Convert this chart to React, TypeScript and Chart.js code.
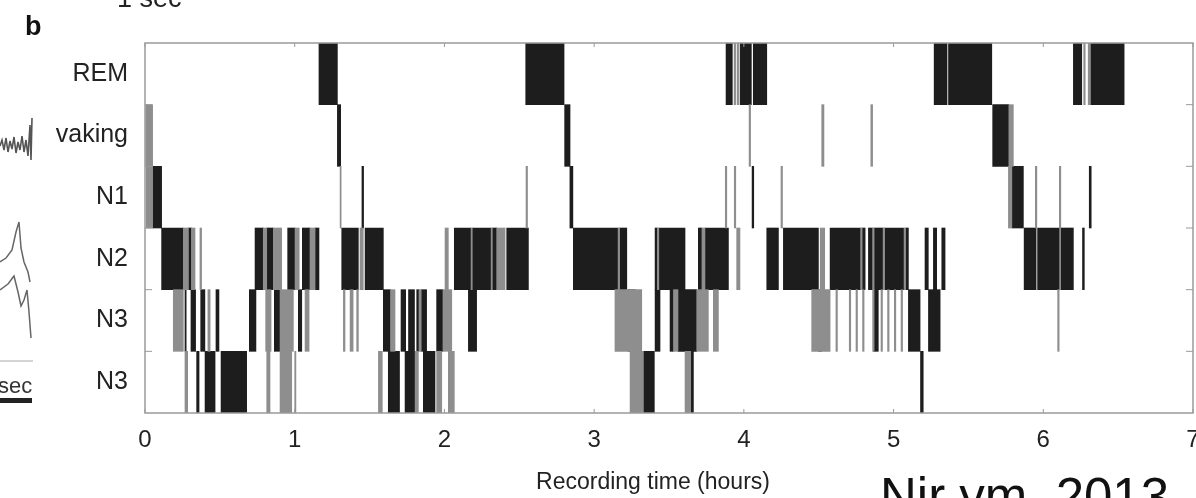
import React, { useEffect, useRef } from 'react';
import { Chart, registerables } from 'chart.js';

Chart.register(...registerables);

// ---- Data (hours) ----
const stageKeys = ['REM', 'W', 'N1', 'N2', 'N3', 'N4'];
const stageTickLabels = ['REM', 'vaking', 'N1', 'N2', 'N3', 'N3'];
const xTickValues = [0, 1, 2, 3, 4, 5, 6, 7];
const xAxisTitle = 'Recording time (hours)';

const remDark = [[1.162, 1.285], [2.543, 2.799], [3.881, 3.923], [3.975, 4.05], [4.063, 4.153], [5.271, 5.357], [5.367, 5.656], [6.201, 6.257], [6.317, 6.54]];
const remGrey = [[3.935, 3.945], [3.955, 3.965], [6.27, 6.28], [6.3, 6.31]];

const wakeDark = [[1.285, 1.307], [2.803, 2.839], [5.662, 5.77]];
const wakeGrey = [[0.005, 0.051], [4.035, 4.045], [4.52, 4.535], [4.848, 4.86], [5.77, 5.8]];

const n1Dark = [[0.051, 0.111], [1.449, 1.46], [2.838, 2.858], [4.055, 4.066], [5.79, 5.867], [6.307, 6.32]];
const n1Grey = [[0.008, 0.051], [1.303, 1.31], [2.545, 2.555], [3.876, 3.886], [3.936, 3.946], [4.248, 4.258], [5.767, 5.79], [5.947, 5.957], [6.107, 6.117]];

const n2Dark = [[0.111, 0.256], [0.29, 0.31], [0.735, 0.79], [0.813, 0.857], [0.953, 1.002], [1.051, 1.102], [1.136, 1.162], [1.314, 1.425], [1.47, 1.592], [2.066, 2.178], [2.186, 2.312], [2.32, 2.349], [2.416, 2.561], [2.861, 3.16], [3.17, 3.218], [3.407, 3.422], [3.432, 3.607], [3.696, 3.72], [3.74, 3.897], [4.153, 4.231], [4.264, 4.498], [4.576, 4.78], [4.79, 4.81], [4.832, 4.86], [4.87, 4.93], [4.94, 5.07], [5.08, 5.099], [5.21, 5.232], [5.266, 5.288], [5.322, 5.344], [5.872, 5.952], [5.962, 6.107], [6.117, 6.201], [6.262, 6.274]];
const n2Grey = [[0.256, 0.29], [0.31, 0.334], [0.367, 0.378], [0.79, 0.813], [0.857, 0.913], [1.002, 1.03], [1.102, 1.136], [1.436, 1.458], [2.004, 2.026], [2.178, 2.186], [2.312, 2.32], [2.349, 2.405], [3.16, 3.17], [3.422, 3.432], [3.72, 3.74], [3.952, 3.974], [4.51, 4.54], [4.78, 4.79], [4.86, 4.87], [4.93, 4.94], [5.07, 5.08]];

const n3Dark = [[0.267, 0.275], [0.307, 0.338], [0.372, 0.4], [0.474, 0.494], [0.697, 0.741], [0.864, 0.902], [1.024, 1.047], [1.592, 1.64], [1.71, 1.741], [1.76, 1.8], [1.815, 1.83], [1.845, 1.881], [1.948, 1.99], [2.16, 2.215], [3.228, 3.273], [3.407, 3.44], [3.507, 3.53], [3.56, 3.685], [4.5, 4.52], [4.865, 4.898], [5.099, 5.177], [5.233, 5.311]];
const n3Grey = [[0.189, 0.256], [0.42, 0.435], [0.806, 0.842], [0.902, 0.991], [1.069, 1.096], [1.325, 1.336], [1.37, 1.39], [1.414, 1.425], [1.64, 1.67], [1.83, 1.845], [1.99, 2.049], [3.139, 3.318], [3.53, 3.56], [3.685, 3.763], [3.796, 3.83], [4.453, 4.576], [4.615, 4.625], [4.704, 4.714], [4.749, 4.759], [4.793, 4.803], [4.86, 4.87], [4.916, 4.926], [4.96, 4.97], [5.005, 5.015], [5.05, 5.06], [6.096, 6.106]];

const n4Dark = [[0.345, 0.361], [0.401, 0.468], [0.508, 0.679], [0.935, 0.965], [1.625, 1.7], [1.737, 1.815], [1.859, 1.937], [3.329, 3.402], [3.645, 3.663], [5.18, 5.198]];
const n4Grey = [[0.267, 0.285], [0.813, 0.835], [0.902, 0.98], [1.0, 1.008], [1.559, 1.585], [1.804, 1.826], [1.948, 1.982], [2.026, 2.066], [3.24, 3.329], [3.607, 3.645]];

const darkSegments = [remDark, wakeDark, n1Dark, n2Dark, n3Dark, n4Dark];
const greySegments = [remGrey, wakeGrey, n1Grey, n2Grey, n3Grey, n4Grey];

const FONT = '"Liberation Sans", Arial, Helvetica, sans-serif';

function toPoints(groups: number[][][]) {
  const out: { x: number[]; y: string }[] = [];
  groups.forEach((segs, i) => {
    segs.forEach((s) => out.push({ x: s, y: stageKeys[i] }));
  });
  return out;
}

const framePlugin = {
  id: 'frame',
  afterDatasetsDraw(chart: any) {
    const { ctx, chartArea: a, scales } = chart;
    ctx.save();
    ctx.strokeStyle = '#9a9a9a';
    ctx.lineWidth = 1.5;
    ctx.strokeRect(a.left, a.top, a.right - a.left, a.bottom - a.top);
    ctx.lineWidth = 1;
    const xs = scales.x;
    xTickValues.forEach((v) => {
      const px = xs.getPixelForValue(v);
      ctx.beginPath();
      ctx.moveTo(px, a.top);
      ctx.lineTo(px, a.top + 4);
      ctx.moveTo(px, a.bottom);
      ctx.lineTo(px, a.bottom - 4);
      ctx.stroke();
    });
    const band = (a.bottom - a.top) / stageKeys.length;
    for (let i = 1; i < stageKeys.length; i++) {
      const py = a.top + band * i;
      ctx.beginPath();
      ctx.moveTo(a.left, py);
      ctx.lineTo(a.left + 7, py);
      ctx.moveTo(a.right, py);
      ctx.lineTo(a.right - 7, py);
      ctx.stroke();
    }
    ctx.restore();
  },
};

export default function App() {
  const canvasRef = useRef<HTMLCanvasElement>(null);

  useEffect(() => {
    document.body.style.margin = '0';
    const canvas = canvasRef.current;
    if (!canvas) return;
    const chart = new Chart(canvas, {
      type: 'bar',
      data: {
        labels: stageKeys,
        datasets: [
          {
            label: 'grey',
            data: toPoints(greySegments) as any,
            backgroundColor: '#8e8e8e',
            borderWidth: 0,
            grouped: false,
            barPercentage: 1,
            categoryPercentage: 1,
          } as any,
          {
            label: 'dark',
            data: toPoints(darkSegments) as any,
            backgroundColor: '#1d1d1d',
            borderWidth: 0,
            grouped: false,
            barPercentage: 1,
            categoryPercentage: 1,
          } as any,
        ],
      },
      options: {
        animation: false,
        responsive: false,
        indexAxis: 'y',
        layout: { padding: { top: 43, right: 3, left: 0, bottom: 0 } },
        plugins: {
          legend: { display: false },
          tooltip: { enabled: false },
        },
        scales: {
          x: {
            type: 'linear',
            min: 0,
            max: 7,
            grid: { display: false, drawTicks: false },
            border: { display: false },
            ticks: {
              stepSize: 1,
              padding: 13,
              color: '#222',
              font: { family: FONT, size: 24 },
              maxRotation: 0,
            },
            title: { display: false, text: xAxisTitle },
            afterFit(scale: any) {
              scale.height = 85;
              scale.paddingLeft = 0;
              scale.paddingRight = 0;
            },
          },
          y: {
            type: 'category',
            grid: { display: false, drawTicks: false },
            border: { display: false },
            ticks: {
              padding: 17,
              color: '#222',
              font: { family: FONT, size: 25 },
              callback: (_v: any, i: number) => stageTickLabels[i],
            },
            afterFit(scale: any) {
              scale.width = 145;
              scale.paddingTop = 0;
              scale.paddingBottom = 0;
            },
          },
        },
      } as any,
      plugins: [framePlugin],
    });
    return () => chart.destroy();
  }, []);

  return (
    <div style={{ position: 'absolute', left: 0, top: 0, width: 1196, height: 498, background: '#fff', overflow: 'hidden' }}>
      <canvas ref={canvasRef} width={1196} height={498} style={{ position: 'absolute', left: 0, top: 0 }} />
      <svg width={1196} height={498} style={{ position: 'absolute', left: 0, top: 0, pointerEvents: 'none' }}>
        <text x={117} y={7} fontFamily={FONT} fontSize={27} fill="#222">1 sec</text>
        <text x={25} y={35} fontFamily={FONT} fontSize={27} fontWeight="bold" fill="#111">b</text>
        <polyline fill="none" stroke="#555" strokeWidth={1.6}
          points="0,146 2,140 4,150 6,138 8,152 10,141 12,149 14,137 16,153 18,142 20,150 22,136 24,152 26,140 28,156 30,125 31,160 32,118" />
        <polyline fill="none" stroke="#666" strokeWidth={1.5}
          points="0,262 6,258 12,250 16,232 19,222 21,248 24,262 28,272 30,282" />
        <polyline fill="none" stroke="#666" strokeWidth={1.5}
          points="0,290 8,284 14,276 18,292 21,306 24,300 27,290 29,312 31,338" />
        <line x1={0} y1={361} x2={33} y2={361} stroke="#aaa" strokeWidth={1} />
        <text x={-2} y={393} fontFamily={FONT} fontSize={22} fill="#333">sec</text>
        <rect x={0} y={398} width={32} height={5} fill="#222" />
        <text x={653} y={489} textAnchor="middle" fontFamily={FONT} fontSize={23} fill="#222">{xAxisTitle}</text>
        <text x={880} y={514} fontFamily={FONT} fontSize={51} fill="#111">Nir ym. 2013</text>
      </svg>
    </div>
  );
}
